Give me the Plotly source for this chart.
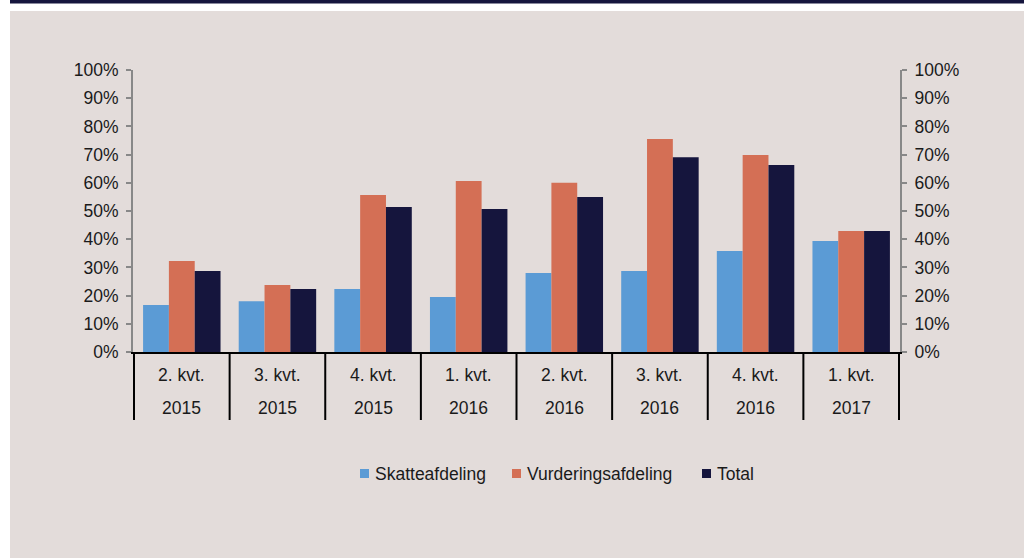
import plotly.graph_objects as go

quarters = ["2. kvt.", "3. kvt.", "4. kvt.", "1. kvt.", "2. kvt.", "3. kvt.", "4. kvt.", "1. kvt."]
years = ["2015", "2015", "2015", "2016", "2016", "2016", "2016", "2017"]
skatte = [16.7, 18.0, 22.3, 19.5, 28.0, 28.7, 35.8, 39.4]
vurdering = [32.3, 23.8, 55.7, 60.6, 60.0, 75.5, 69.9, 42.9]
total = [28.7, 22.3, 51.4, 50.7, 55.0, 69.1, 66.3, 42.9]
y_ticks = list(range(0, 101, 10))
series_names = ["Skatteafdeling", "Vurderingsafdeling", "Total"]
series_colors = ["#5B9BD5", "#D46F55", "#15153D"]

cats = [f"{q} {y}" for q, y in zip(quarters, years)]

W, H = 1024, 558
L, R, T, B = 133, 124, 70, 206
PW, PH = W - L - R, H - T - B


def px(xp):
    return (xp - L) / PW


def py(yp):
    return (H - B - yp) / PH


FONT = "Liberation Sans"
FS = 17.5
TXT = "#1a1a1a"
fig = go.Figure()
for name, vals, col in zip(series_names, [skatte, vurdering, total], series_colors):
    fig.add_trace(go.Bar(x=cats, y=vals, name=name, marker_color=col, marker_line_width=0))

fig.add_trace(go.Scatter(x=[cats[0]], y=[0], yaxis="y2", showlegend=False,
                         mode="markers", marker_opacity=0, hoverinfo="skip"))

axis_common = dict(range=[0, 100], tickvals=y_ticks, ticktext=[f"{v}%" for v in y_ticks],
                   showgrid=False, zeroline=False, showline=True, linecolor="#888888",
                   linewidth=2, ticks="outside", ticklen=5, tickwidth=2, tickcolor="#888888",
                   ticklabelstandoff=4,
                   tickfont=dict(family=FONT, size=FS, color=TXT))
fig.update_layout(
    width=W, height=H,
    margin=dict(l=L, r=R, t=T, b=B),
    paper_bgcolor="#E3DCDA", plot_bgcolor="rgba(0,0,0,0)",
    barmode="group", bargap=0.19, bargroupgap=0,
    xaxis=dict(showticklabels=False, showgrid=False, zeroline=False, showline=True,
               linecolor="black", linewidth=2, ticks=""),
    yaxis=dict(side="left", **axis_common),
    yaxis2=dict(side="right", overlaying="y", **axis_common),
    showlegend=False,
    font=dict(family=FONT),
)

shapes = []
# page decorations
shapes.append(dict(type="rect", xref="paper", yref="paper", x0=px(-5), x1=px(W + 5), y0=py(11), y1=py(-5),
                   fillcolor="white", line_width=0, layer="below"))
shapes.append(dict(type="rect", xref="paper", yref="paper", x0=px(-5), x1=px(10), y0=py(H + 5), y1=py(-5),
                   fillcolor="white", line_width=0, layer="below"))
shapes.append(dict(type="rect", xref="paper", yref="paper", x0=px(10), x1=px(W + 5), y0=py(3.5), y1=py(-5),
                   fillcolor="#15153D", line_width=0, layer="below"))
# category separators
for i in range(len(cats) + 1):
    shapes.append(dict(type="line", xref="x", yref="paper", x0=i - 0.5, x1=i - 0.5,
                       y0=0, y1=py(420), line=dict(color="black", width=2)))

ann = []
for c, q, y in zip(cats, quarters, years):
    ann.append(dict(x=c, xref="x", yref="paper", y=py(375), text=q, showarrow=False,
                    yanchor="middle", font=dict(family=FONT, size=FS, color=TXT)))
    ann.append(dict(x=c, xref="x", yref="paper", y=py(408), text=y, showarrow=False,
                    yanchor="middle", font=dict(family=FONT, size=FS, color=TXT)))

# custom legend
legend_x = [360, 512, 702]
for lx, name, col in zip(legend_x, series_names, series_colors):
    shapes.append(dict(type="rect", xref="paper", yref="paper", x0=px(lx), x1=px(lx + 9),
                       y0=py(478), y1=py(469), fillcolor=col, line_width=0))
    ann.append(dict(x=px(lx + 13), xref="paper", yref="paper", y=py(474), text=name,
                    showarrow=False, xanchor="left", yanchor="middle",
                    font=dict(family=FONT, size=FS, color=TXT)))

fig.update_layout(shapes=shapes, annotations=ann)

fig.write_html("out.html", config={"displayModeBar": False},
               post_script="document.body.style.margin='0';document.body.style.overflow='hidden';")
